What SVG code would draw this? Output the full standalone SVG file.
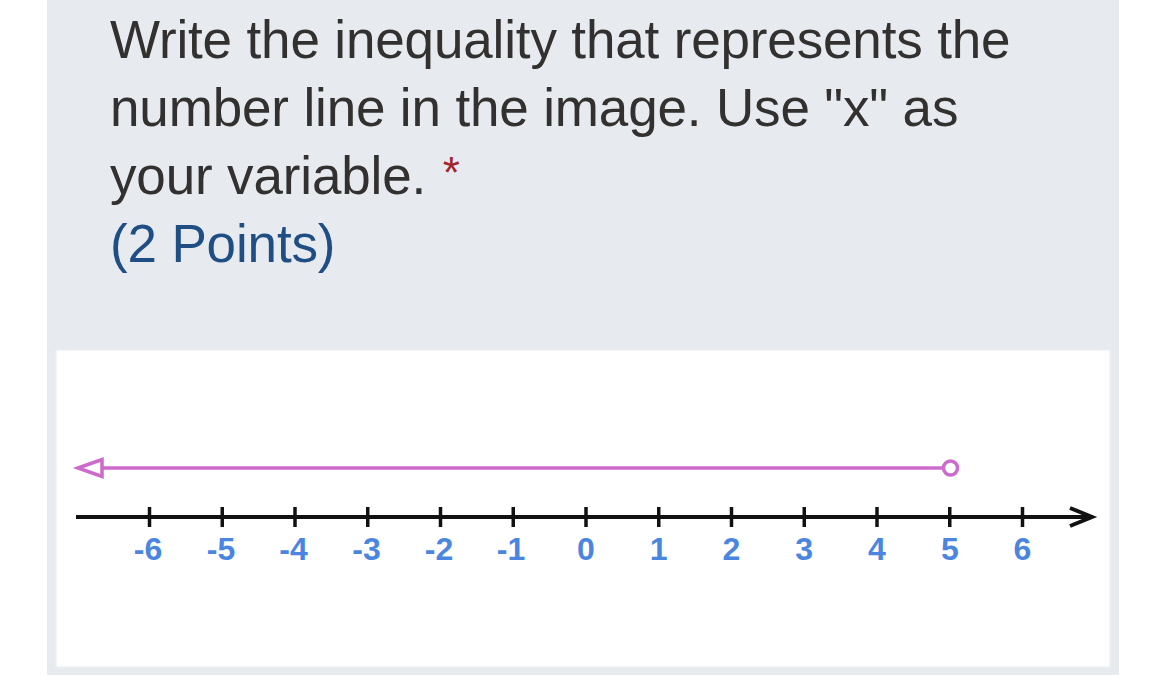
<svg xmlns="http://www.w3.org/2000/svg" width="1166" height="696" viewBox="0 0 1166 696">
<style>
.q{font-family:"Liberation Sans",Arial,sans-serif;font-size:53px;letter-spacing:-0.15px;fill:#323130}
.pts{fill:#1f4e85}
.star{fill:#a4262c;font-size:44px}
.lbl{font-family:"Liberation Sans",Arial,sans-serif;font-size:32px;font-weight:bold;fill:#4a86df;text-anchor:middle}
.tick{stroke:#111;stroke-width:3.5}
.pink{stroke:#cc6bcc;stroke-width:3.5;fill:none}
</style>
<rect x="0" y="0" width="1166" height="696" fill="#ffffff"/>
<g id="panel">
<rect x="47" y="0" width="1072" height="675" fill="#e7ebef"/>
<rect x="56" y="350" width="1054" height="317" fill="#ffffff" stroke="#eef1f4" stroke-width="1.5"/>
</g>
<g id="question">
<text class="q" x="110" y="58">Write the inequality that represents the</text>
<text class="q" x="110" y="126">number line in the image. Use "x" as</text>
<text class="q" x="110" y="194">your variable. <tspan class="star" dx="2" dy="-6">*</tspan></text>
<text class="q pts" x="110" y="262">(2 Points)</text>
</g>
<g id="axis">
<line x1="76" y1="517" x2="1090" y2="517" stroke="#111" stroke-width="4"/>
<polyline points="1070,508 1092,517 1070,526" fill="none" stroke="#111" stroke-width="4"/>
<g id="ticks">
<line class="tick" x1="149.5" y1="507" x2="149.5" y2="527"/>
<line class="tick" x1="222.25" y1="507" x2="222.25" y2="527"/>
<line class="tick" x1="295" y1="507" x2="295" y2="527"/>
<line class="tick" x1="367.75" y1="507" x2="367.75" y2="527"/>
<line class="tick" x1="440.5" y1="507" x2="440.5" y2="527"/>
<line class="tick" x1="513.25" y1="507" x2="513.25" y2="527"/>
<line class="tick" x1="586" y1="507" x2="586" y2="527"/>
<line class="tick" x1="658.75" y1="507" x2="658.75" y2="527"/>
<line class="tick" x1="731.5" y1="507" x2="731.5" y2="527"/>
<line class="tick" x1="804.25" y1="507" x2="804.25" y2="527"/>
<line class="tick" x1="877" y1="507" x2="877" y2="527"/>
<line class="tick" x1="949.75" y1="507" x2="949.75" y2="527"/>
<line class="tick" x1="1022.5" y1="507" x2="1022.5" y2="527"/>
</g>
<g id="labels">
<text class="lbl" x="148" y="560">-6</text>
<text class="lbl" x="221" y="560">-5</text>
<text class="lbl" x="293.5" y="560">-4</text>
<text class="lbl" x="366.5" y="560">-3</text>
<text class="lbl" x="439" y="560">-2</text>
<text class="lbl" x="511" y="560">-1</text>
<text class="lbl" x="586" y="560">0</text>
<text class="lbl" x="658.75" y="560">1</text>
<text class="lbl" x="731.5" y="560">2</text>
<text class="lbl" x="804.25" y="560">3</text>
<text class="lbl" x="877" y="560">4</text>
<text class="lbl" x="950" y="560">5</text>
<text class="lbl" x="1022.5" y="560">6</text>
</g>
</g>
<g id="solution">
<line class="pink" x1="100" y1="468" x2="943.5" y2="468"/>
<polygon class="pink" points="78,468 102,459.5 102,476.5" style="fill:#ffffff"/>
<circle class="pink" cx="950.5" cy="468" r="7" style="fill:#ffffff"/>
</g>
</svg>
